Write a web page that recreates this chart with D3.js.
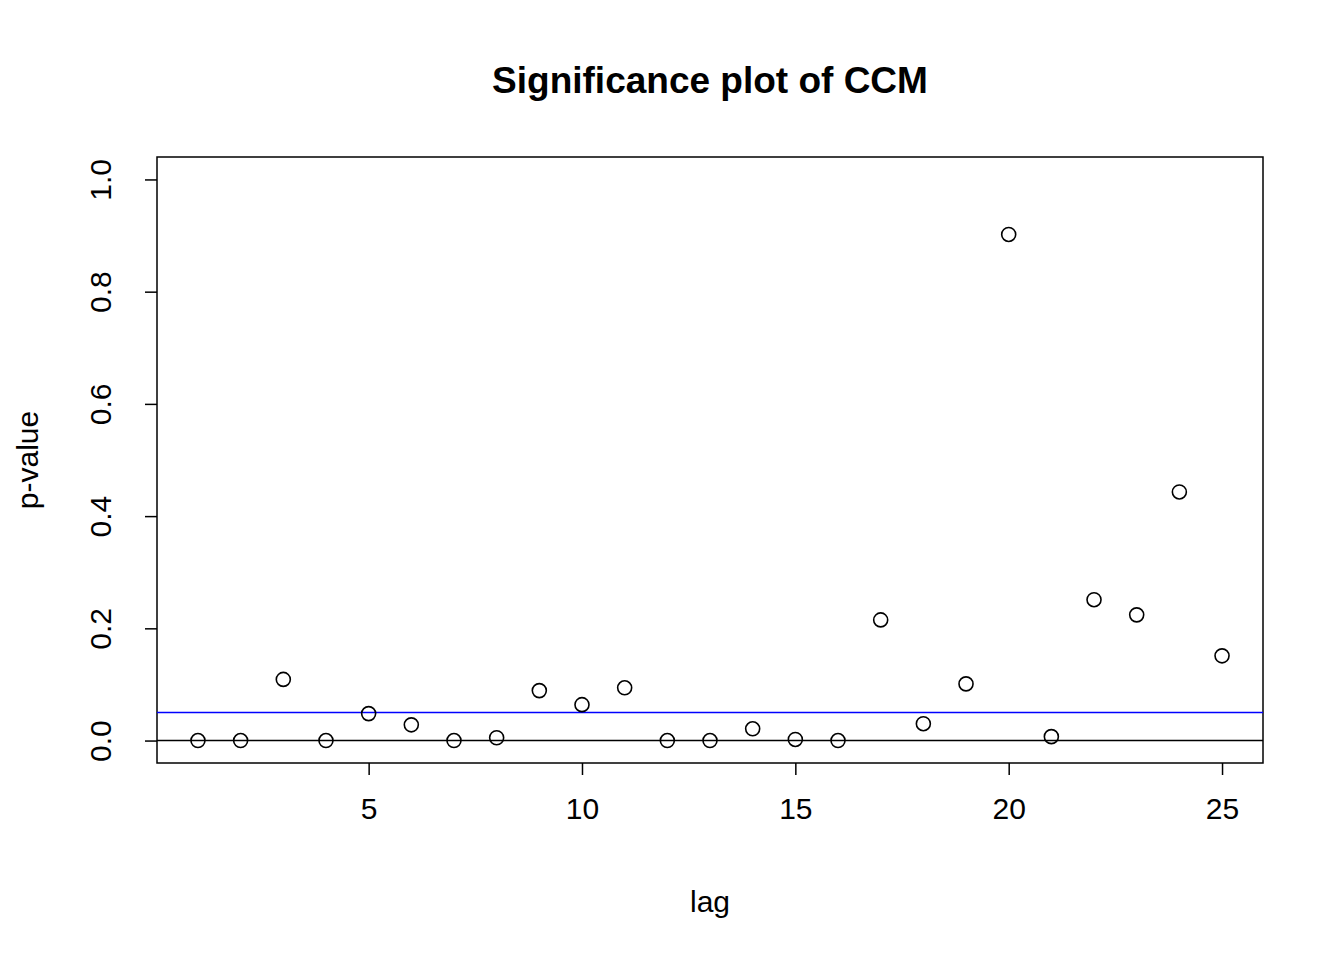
<!DOCTYPE html><html><head><meta charset="utf-8">
<script src="https://cdn.jsdelivr.net/npm/d3@7"></script>
<style>body{margin:0;background:#fff}text{font-family:"Liberation Sans",Arial,sans-serif}</style>
</head><body><svg width="1344" height="960"></svg><script>
const lags=d3.range(1,26);
const pvals=[0,0,0.109,0,0.048,0.028,0,0.005,0.089,0.064,0.094,0,0,0.021,0.002,0,0.215,0.030,0.101,0.902,0.007,0.251,0.224,0.443,0.151];
const xTicks=[5,10,15,20,25], yTicks=[0,0.2,0.4,0.6,0.8,1.0];
const svg=d3.select("svg");
const L=157,R=1263,T=157,B=763;
const x=d3.scaleLinear().domain([0.04,25.96]).range([L,R]);
const y=d3.scaleLinear().domain([-0.04,1.04]).range([B,T]);
svg.append("rect").attr("x",L).attr("y",T).attr("width",R-L).attr("height",B-T).attr("fill","none").attr("stroke","#000").attr("stroke-width",1.5);
const xa=svg.append("g").attr("transform",`translate(0,${B})`).call(d3.axisBottom(x).tickValues(xTicks).tickSize(12).tickPadding(0));
const ya=svg.append("g").attr("transform",`translate(${L},0)`).call(d3.axisLeft(y).tickValues(yTicks).tickSize(12).tickFormat(d3.format(".1f")));
[xa,ya].forEach(a=>{a.select(".domain").remove();a.selectAll("line").attr("stroke-width",1.5);a.selectAll("text").attr("font-size",30).attr("fill","#000")});
xa.selectAll(".tick text").attr("y",35).attr("dy","0.71em");
ya.selectAll(".tick text").attr("text-anchor","middle").attr("transform","rotate(-90)").attr("x",0).attr("y",-57).attr("dy","0.35em");
svg.append("line").attr("x1",L).attr("x2",R).attr("y1",y(0)).attr("y2",y(0)).attr("stroke","#000").attr("stroke-width",1.5);
svg.append("line").attr("x1",L).attr("x2",R).attr("y1",y(0.05)).attr("y2",y(0.05)).attr("stroke","#0000ff").attr("stroke-width",1.5);
svg.selectAll("circle.p").data(lags).enter().append("circle").attr("cx",d=>x(d)).attr("cy",(d,i)=>y(pvals[i])).attr("r",7).attr("fill","none").attr("stroke","#000").attr("stroke-width",1.6);
svg.append("text").attr("x",710).attr("y",93).attr("text-anchor","middle").attr("font-size",37).attr("font-weight","bold").text("Significance plot of CCM");
svg.append("text").attr("x",710).attr("y",912).attr("text-anchor","middle").attr("font-size",30).text("lag");
svg.append("text").attr("transform","translate(38,460) rotate(-90)").attr("text-anchor","middle").attr("font-size",30).text("p-value");
</script></body></html>
